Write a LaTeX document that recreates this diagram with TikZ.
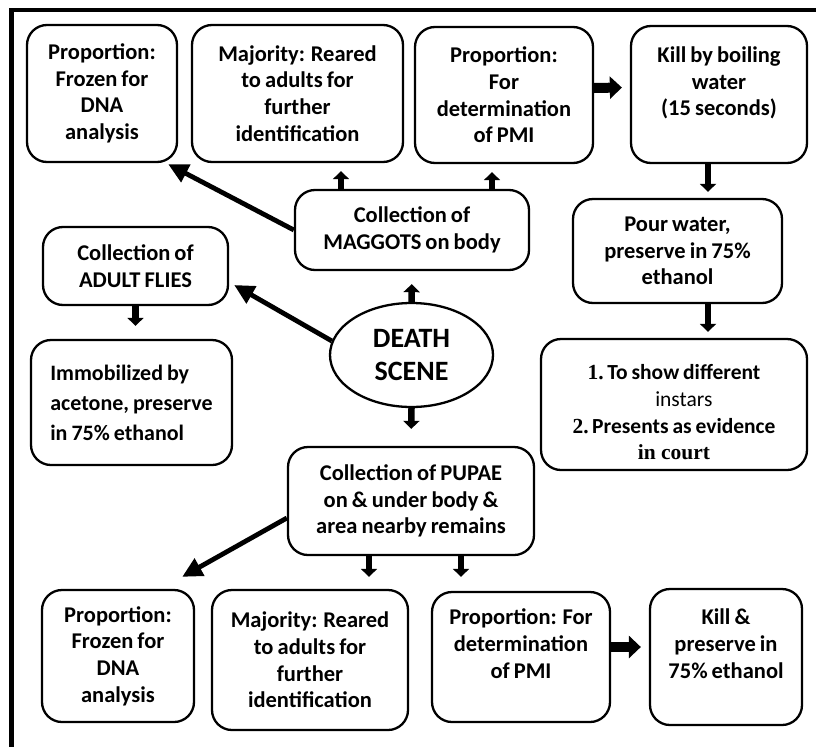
\documentclass[tikz,border=0pt]{standalone}
\usepackage{fontspec}
\setmainfont{Carlito}[WordSpace=0.8]
\newfontfamily\serifb{Liberation Serif}
\usetikzlibrary{arrows.meta,calc,shapes.geometric}
\begin{document}
\begin{tikzpicture}[x=1pt,y=-1pt,
  box/.style={draw, line width=2.3pt, rounded corners=20pt, align=center, inner sep=0pt,
    font=\bfseries\fontsize{22.5}{26.7}\selectfont},
  varrow/.style={line width=6.5pt, -{Triangle[length=8pt,width=16pt]}},
  darrow/.style={line width=4.8pt, -{Triangle[length=20pt,width=19pt]}},
  farrow/.style={line width=10pt, -{Triangle[length=12pt,width=22pt]}},
]
\useasboundingbox (0,0) rectangle (816,747);
\fill[white] (0,0) rectangle (816,747);
% frame
\draw[line width=4.5pt] (816,10) -- (11.5,10) -- (11.5,747);

% top row
\node[box, minimum width=150pt, minimum height=137pt] (b1) at (102,93.5) {Proportion:\\Frozen for\\DNA\\analysis};
\node[box, minimum width=211pt, minimum height=137pt] (b2) at (297.5,93.5) {Majority: Reared\\to adults for\\further\\identification};
\node[box, minimum width=178pt, minimum height=136pt] (b3) at (504,95) {Proportion:\\For\\determination\\of PMI};
\node[box, minimum width=176pt, minimum height=137pt] (b4) at (719,94.5) {Kill by boiling\\water\\(15 seconds)\\\mbox{}};

% middle
\node[box, minimum width=234pt, minimum height=80pt] (maggots) at (412,230) {Collection of\\MAGGOTS on body};
\node[box, minimum width=209pt, minimum height=104pt] (b5) at (677.5,251) {Pour water,\\preserve in 75\%\\ethanol};
\node[box, minimum width=185pt, minimum height=78pt] (adult) at (135.5,266) {Collection of\\ADULT FLIES};
\node[box, align=left, minimum width=201pt, minimum height=125pt,
  font=\bfseries\fontsize{22}{30}\selectfont] (immob) at (131.5,402.5) {Immobilized by\\acetone, preserve\\in 75\% ethanol};
\node[ellipse, draw, line width=2.3pt, minimum width=163pt, minimum height=104pt, inner sep=0pt,
  align=center, font=\bfseries\fontsize{28}{33}\selectfont] (death) at (411.5,355) {DEATH\\SCENE};
\node[box, minimum width=266pt, minimum height=131pt] (b6) at (674,404.5) {};
\node[align=center, inner sep=0pt, font=\bfseries\fontsize{21.5}{26.7}\selectfont] (b6t) at ($(b6.center)+(0,8)$)
  {{\serifb 1.}\,To show different\\\phantom{{\serifb 1.}\,}{\mdseries instars}\\{\serifb 2.}\,Presents as evidence\\{\serifb in court}};
\node[box, minimum width=246pt, minimum height=108pt] (pupae) at (411,501) {Collection of PUPAE\\on \& under body \&\\area nearby remains};

% bottom row
\node[box, minimum width=152pt, minimum height=132pt] (c1) at (118,656) {Proportion:\\Frozen for\\DNA\\analysis};
\node[box, minimum width=196pt, minimum height=140pt] (c2) at (310,660) {Majority: Reared\\to adults for\\further\\identification};
\node[box, minimum width=178pt, minimum height=130pt] (c3) at (521,657) {Proportion: For\\determination\\of PMI\\\mbox{}};
\node[box, minimum width=152pt, minimum height=136pt] (c4) at (726,657) {Kill \&\\preserve in\\75\% ethanol\\\mbox{}};

% helper coordinates
\coordinate (m2) at ($(maggots.north)+(-71,0)$);
\coordinate (m3) at ($(maggots.north)+(80,0)$);
\coordinate (k4) at ($(b4.south)+(-11,0)$);
\coordinate (k5) at ($(b5.south)+(30.5,0)$);
\coordinate (p2) at ($(pupae.south)+(-42,0)$);
\coordinate (p3) at ($(pupae.south)+(50,0)$);
\coordinate (b1tip) at ($(b1.south east)+(-10,1)$);
\coordinate (adtip) at ($(adult.east)+(5,19)$);
\coordinate (pw) at ($(pupae.west)+(0,17)$);
\coordinate (c1tip) at ($(c1.north east)+(-13,-12)$);
\coordinate (f1) at ($(b3.east)+(0,-7)$);
\coordinate (f1t) at ($(b4.west)+(-8,-7)$);
\coordinate (f2) at ($(c3.east)+(0,-10)$);
\coordinate (f2t) at ($(c4.west)+(-8,-10)$);

% arrows
\draw[darrow] (maggots.west) -- (b1tip);
\draw[varrow, shorten >=8pt] (m2) -- (m2 |- b2.south);
\draw[varrow, shorten >=8pt] (m3) -- (m3 |- b3.south);
\draw[farrow] (f1) -- (f1t);
\draw[varrow, shorten >=6pt] (k4) -- (k4 |- b5.north);
\draw[varrow, shorten >=6pt] (k5) -- (k5 |- b6.north);
\draw[varrow, shorten >=13pt] (adult.south) -- (adult.south |- immob.north);
\draw[varrow, shorten >=13pt] (death.north) -- (maggots.south);
\draw[darrow] (death.170) -- (adtip);
\draw[varrow, shorten >=17pt] (death.south) -- (pupae.north);
\draw[darrow] (pw) -- (c1tip);
\draw[varrow, shorten >=12pt] (p2) -- (p2 |- c2.north);
\draw[varrow, shorten >=14pt] (p3) -- (p3 |- c3.north);
\draw[farrow] (f2) -- (f2t);
\end{tikzpicture}
\end{document}
